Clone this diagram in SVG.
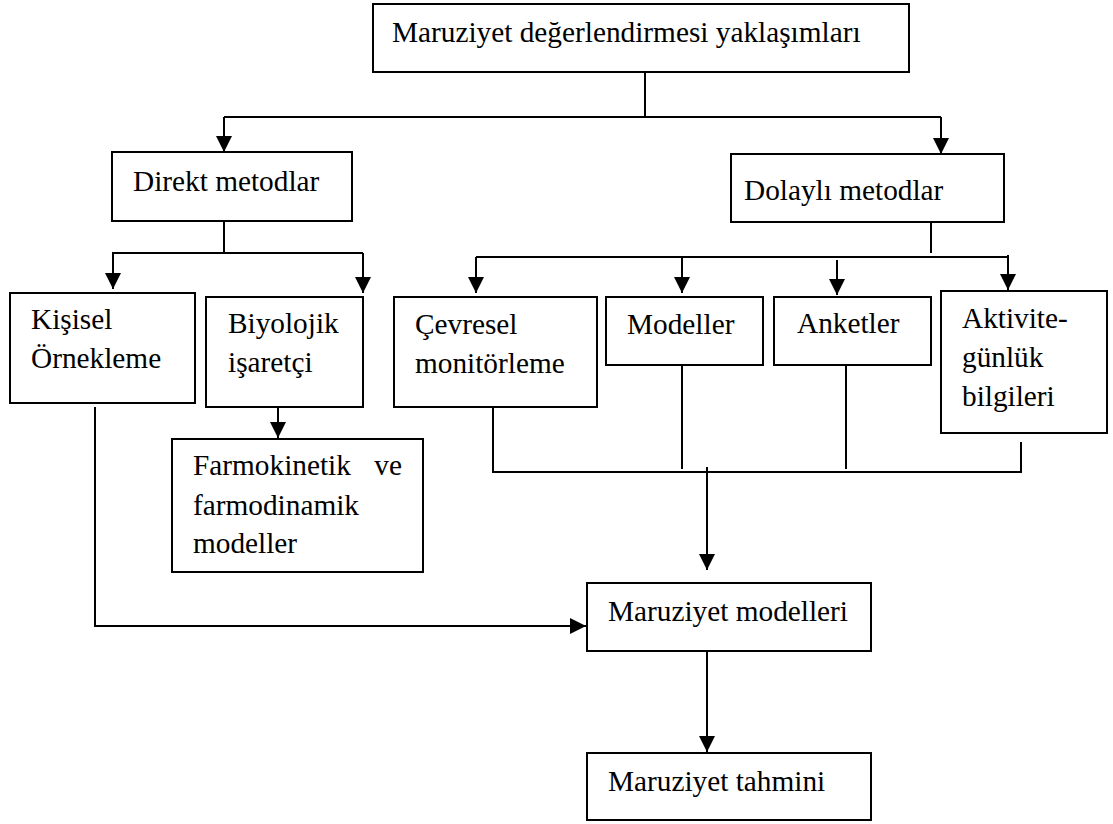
<svg xmlns="http://www.w3.org/2000/svg" width="1113" height="824" viewBox="0 0 1113 824">
<style>
.box{fill:#fff;stroke:#000;stroke-width:2}
.t{font-family:"Liberation Serif","Times New Roman",serif;font-size:29.3px;fill:#000}
.c{fill:none;stroke:#000;stroke-width:2}
.a{fill:none;stroke:#000;stroke-width:2;marker-end:url(#ah)}
</style>
<defs>
<marker id="ah" markerUnits="userSpaceOnUse" markerWidth="17" markerHeight="17" viewBox="0 0 17 17" refX="16" refY="8.5" orient="auto">
<path d="M0,0.5 L16,8.5 L0,16.5 Z" fill="#000"/>
</marker>
</defs>
<rect width="1113" height="824" fill="#fff"/>
<g id="connectors">
<path class="c" d="M645,72 V117"/>
<path class="c" d="M224,117 H941"/>
<path class="a" d="M224,117 V152"/>
<path class="a" d="M941,117 V154"/>
<path class="c" d="M224,221 V253"/>
<path class="c" d="M112,253 H363"/>
<path class="a" d="M113,253 V289"/>
<path class="a" d="M363,253 V293"/>
<path class="a" d="M278,403 V438"/>
<path class="c" d="M931,222 V253"/>
<path class="c" d="M476,257 H1008 V255"/>
<path class="a" d="M476,257 V293"/>
<path class="a" d="M682,257 V293"/>
<path class="a" d="M837,260 V295"/>
<path class="a" d="M1008,257 V290"/>
<path class="c" d="M493,407 V472 H1021 V442"/>
<path class="c" d="M682,361 V469"/>
<path class="c" d="M846,366 V469"/>
<path class="a" d="M707,467 V570"/>
<path class="a" d="M95,407 V626 H586"/>
<path class="a" d="M707,651 V752"/>
</g>
<g id="n-top"><rect class="box" x="373" y="4" width="536" height="68"/><text class="t" x="392" y="42">Maruziyet değerlendirmesi yaklaşımları</text></g>
<g id="n-direkt"><rect class="box" x="112" y="152" width="240" height="69"/><text class="t" x="133" y="191">Direkt metodlar</text></g>
<g id="n-dolayli"><rect class="box" x="731" y="154" width="273" height="68"/><text class="t" x="744" y="200">Dolaylı metodlar</text></g>
<g id="n-kisisel"><rect class="box" x="10" y="293" width="185" height="110"/><text class="t"><tspan x="31" y="329">Kişisel</tspan><tspan x="31" y="368">Örnekleme</tspan></text></g>
<g id="n-biyolojik"><rect class="box" x="206" y="297" width="157" height="110"/><text class="t"><tspan x="228" y="333">Biyolojik</tspan><tspan x="228" y="372">işaretçi</tspan></text></g>
<g id="n-farmo"><rect class="box" x="172" y="439" width="251" height="133"/><text class="t"><tspan x="193" y="475">Farmokinetik</tspan><tspan x="402" y="475" text-anchor="end">ve</tspan><tspan x="193" y="515">farmodinamik</tspan><tspan x="193" y="553">modeller</tspan></text></g>
<g id="n-cevresel"><rect class="box" x="394" y="297" width="203" height="110"/><text class="t"><tspan x="415" y="334">Çevresel</tspan><tspan x="415" y="373">monitörleme</tspan></text></g>
<g id="n-modeller"><rect class="box" x="606" y="297" width="157" height="68"/><text class="t" x="627" y="334">Modeller</text></g>
<g id="n-anketler"><rect class="box" x="774" y="297" width="157" height="68"/><text class="t" x="797" y="333">Anketler</text></g>
<g id="n-aktivite"><rect class="box" x="941" y="291" width="166" height="142"/><text class="t"><tspan x="962" y="328">Aktivite-</tspan><tspan x="962" y="367">günlük</tspan><tspan x="962" y="406">bilgileri</tspan></text></g>
<g id="n-mmodel"><rect class="box" x="587" y="583" width="284" height="68"/><text class="t" x="608" y="621">Maruziyet modelleri</text></g>
<g id="n-mtahmin"><rect class="box" x="587" y="753" width="284" height="67"/><text class="t" x="608" y="791">Maruziyet tahmini</text></g>
</svg>
